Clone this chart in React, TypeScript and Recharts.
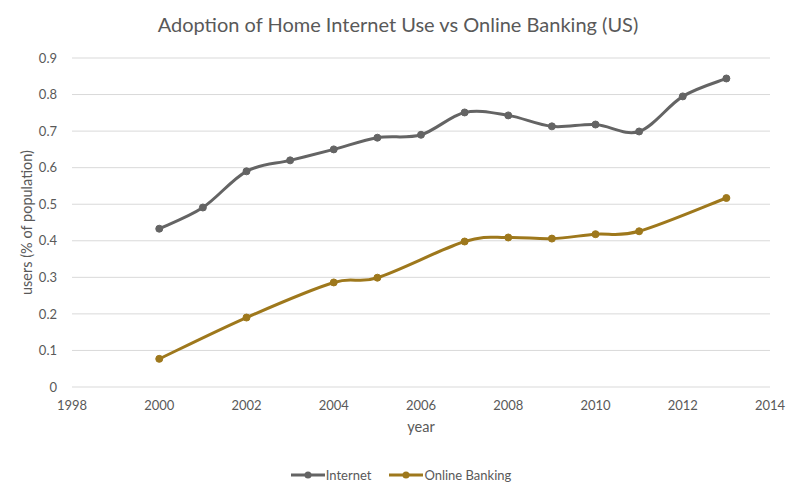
import React from 'react';
import { LineChart, Line, XAxis, YAxis, CartesianGrid, Legend } from 'recharts';

const years = [2000, 2001, 2002, 2003, 2004, 2005, 2006, 2007, 2008, 2009, 2010, 2011, 2012, 2013];
const internet = [0.433, 0.491, 0.59, 0.62, 0.65, 0.682, 0.69, 0.751, 0.743, 0.713, 0.718, 0.699, 0.795, 0.844];
const banking: (number | null)[] = [0.077, null, 0.19, null, 0.286, 0.299, null, 0.398, 0.409, 0.406, 0.418, 0.426, null, 0.517];
const xTicks = [1998, 2000, 2002, 2004, 2006, 2008, 2010, 2012, 2014];
const yTicks = [0, 0.1, 0.2, 0.3, 0.4, 0.5, 0.6, 0.7, 0.8, 0.9];

const data = years.map((year, i) => ({ year, internet: internet[i], banking: banking[i] }));

const GREY = '#646464';
const GOLD = '#9E781C';
const TEXT = '#595959';
const FONT = 'Lato, "Open Sans", sans-serif';

// Excel-like smoothed line (Catmull-Rom style Bezier)
const excelCurve: any = (context: any) => {
  let pts: [number, number][] = [];
  return {
    areaStart() {},
    areaEnd() {},
    lineStart() {
      pts = [];
    },
    point(x: number, y: number) {
      pts.push([+x, +y]);
    },
    lineEnd() {
      if (!pts.length) return;
      context.moveTo(pts[0][0], pts[0][1]);
      for (let i = 0; i < pts.length - 1; i++) {
        const p0 = pts[i - 1] || pts[i];
        const p1 = pts[i];
        const p2 = pts[i + 1];
        const p3 = pts[i + 2] || p2;
        const c1x = p1[0] + (p2[0] - p0[0]) / 6;
        const c1y = p1[1] + (p2[1] - p0[1]) / 6;
        const c2x = p2[0] - (p3[0] - p1[0]) / 6;
        const c2y = p2[1] - (p3[1] - p1[1]) / 6;
        context.bezierCurveTo(c1x, c1y, c2x, c2y, p2[0], p2[1]);
      }
    },
  };
};

const LegendContent = () => {
  const items = [
    { label: 'Internet', color: GREY },
    { label: 'Online Banking', color: GOLD },
  ];
  return (
    <div style={{ height: 20, display: 'flex', justifyContent: 'center', alignItems: 'center', fontFamily: FONT, fontSize: 13, color: TEXT }}>
      {items.map((it, i) => (
        <div key={it.label} style={{ display: 'flex', alignItems: 'center', marginLeft: i ? 18 : 0 }}>
          <svg width={34} height={10} style={{ display: 'block' }}>
            <line x1={0} y1={5} x2={34} y2={5} stroke={it.color} strokeWidth={3} />
            <circle cx={17} cy={5} r={3.5} fill={it.color} />
          </svg>
          <span style={{ marginLeft: 1 }}>{it.label}</span>
        </div>
      ))}
    </div>
  );
};

export default function App() {
  return (
    <div style={{ position: 'absolute', left: 0, top: 0, width: 802, height: 499, background: '#fff' }}>
      <svg width={802} height={44} style={{ position: 'absolute', left: 0, top: 0 }}>
        <text x={398} y={32} textAnchor="middle" fontFamily={FONT} fontSize={20} fill={TEXT}>
          Adoption of Home Internet Use vs Online Banking (US)
        </text>
      </svg>
      <LineChart width={802} height={499} data={data} margin={{ top: 58, right: 32, bottom: 14, left: 12 }}>
        <CartesianGrid horizontal vertical={false} stroke="#D9D9D9" strokeWidth={1} />
        <XAxis
          dataKey="year"
          type="number"
          domain={[1998, 2014]}
          ticks={xTicks}
          axisLine={false}
          tickLine={false}
          tickSize={0}
          tickMargin={14}
          height={78}
          tick={{ fill: TEXT, fontSize: 13, fontFamily: FONT }}
          label={{ value: 'year', position: 'insideTop', offset: 35, fill: TEXT, fontSize: 14.5, fontFamily: FONT }}
        />
        <YAxis
          type="number"
          domain={[0, 0.9]}
          ticks={yTicks}
          axisLine={false}
          tickLine={false}
          tickSize={0}
          tickMargin={15}
          width={60}
          tick={{ fill: TEXT, fontSize: 13, fontFamily: FONT }}
          label={{
            value: 'users (% of population)',
            angle: -90,
            position: 'insideLeft',
            offset: 15,
            fill: TEXT,
            fontSize: 14.5,
            fontFamily: FONT,
            style: { textAnchor: 'middle' },
          }}
        />
        <Legend verticalAlign="bottom" content={<LegendContent />} wrapperStyle={{ left: 0, width: 802 }} />
        <Line
          dataKey="internet"
          name="Internet"
          type={excelCurve}
          stroke={GREY}
          strokeWidth={3}
          dot={{ r: 3.5, fill: GREY, stroke: GREY, strokeWidth: 1 }}
          activeDot={false}
          isAnimationActive={false}
        />
        <Line
          dataKey="banking"
          name="Online Banking"
          type={excelCurve}
          connectNulls
          stroke={GOLD}
          strokeWidth={3}
          dot={{ r: 3.5, fill: GOLD, stroke: GOLD, strokeWidth: 1 }}
          activeDot={false}
          isAnimationActive={false}
        />
      </LineChart>
    </div>
  );
}
